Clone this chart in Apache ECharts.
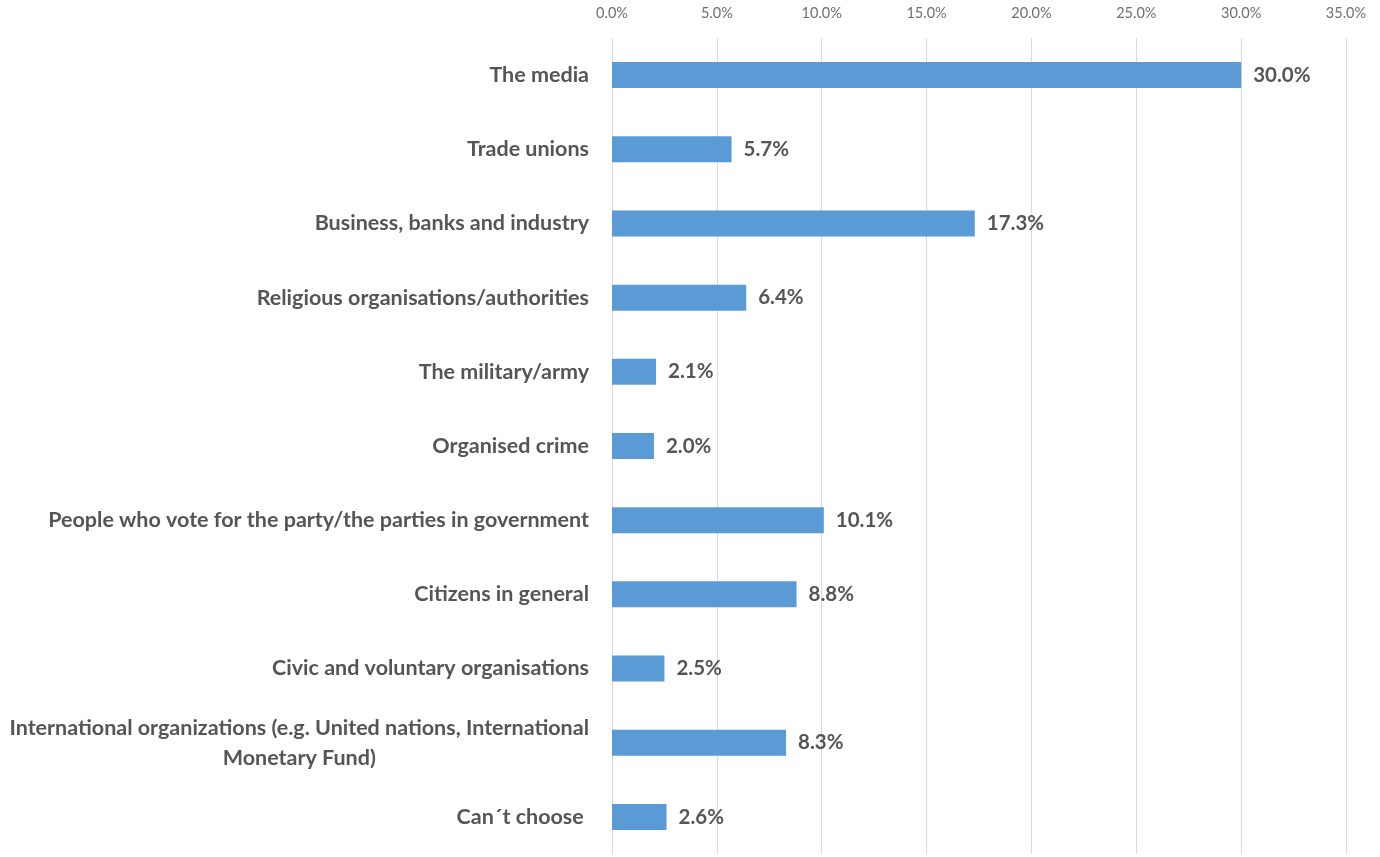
<!DOCTYPE html>
<html>
<head>
<meta charset="utf-8">
<script src="https://cdn.jsdelivr.net/npm/echarts@6/dist/echarts.min.js"></script>
<style>
  html, body { margin: 0; padding: 0; background: #ffffff; }
  #chart { width: 1380px; height: 857px; }
</style>
</head>
<body>
<div id="chart"></div>
<script>
// Categories, top to bottom
const categories = [
  'The media',
  'Trade unions',
  'Business, banks and industry',
  'Religious organisations/authorities',
  'The military/army',
  'Organised crime',
  'People who vote for the party/the parties in government',
  'Citizens in general',
  'Civic and voluntary organisations',
  'International organizations (e.g. United nations, International\nMonetary Fund)',
  'Can\u00b4t choose\u00a0'
];

// Share of respondents, percent
const shares = [30.0, 5.7, 17.3, 6.4, 2.1, 2.0, 10.1, 8.8, 2.5, 8.3, 2.6];

// Value axis ticks
const axisMin = 0;
const axisMax = 35;
const axisStep = 5;

const FONT = 'Lato, "Open Sans", "DejaVu Sans", sans-serif';
const TEXT = '#555555';

const chart = echarts.init(document.getElementById('chart'));
chart.setOption({
  animation: false,
  backgroundColor: '#ffffff',
  grid: {
    left: 612, right: 34, top: 38, bottom: 3,
    containLabel: false,
    outerBoundsMode: 'none'
  },
  xAxis: {
    type: 'value',
    position: 'top',
    min: axisMin,
    max: axisMax,
    interval: axisStep,
    axisLine: { show: false },
    axisTick: { show: false },
    splitLine: { show: true, lineStyle: { color: '#d9d9d9', width: 1 } },
    axisLabel: {
      margin: 17,
      color: '#6f6f6f',
      fontFamily: FONT,
      fontSize: 14.5,
      formatter: v => v.toFixed(1) + '%'
    }
  },
  yAxis: {
    type: 'category',
    data: categories,
    inverse: true,
    axisLine: { show: false },
    axisTick: { show: false },
    splitLine: { show: false },
    axisLabel: {
      margin: 23,
      color: TEXT,
      fontFamily: FONT,
      fontSize: 21.5,
      fontWeight: 'bold',
      lineHeight: 30,
      formatter: function (v) {
        if (v.indexOf('\n') >= 0) {
          return v.split('\n').map(s => '{c|' + s + '}').join('\n');
        }
        return v;
      },
      rich: {
        c: {
          align: 'center',
          color: TEXT,
          fontFamily: FONT,
          fontSize: 21.5,
          fontWeight: 'bold',
          lineHeight: 30
        }
      }
    }
  },
  series: [{
    type: 'bar',
    data: shares,
    barWidth: 26,
    itemStyle: { color: '#5b9bd5' },
    label: {
      show: true,
      position: 'right',
      distance: 12,
      color: TEXT,
      fontFamily: FONT,
      fontSize: 20.5,
      fontWeight: 'bold',
      formatter: p => p.value.toFixed(1) + '%'
    }
  }]
});
</script>
</body>
</html>
